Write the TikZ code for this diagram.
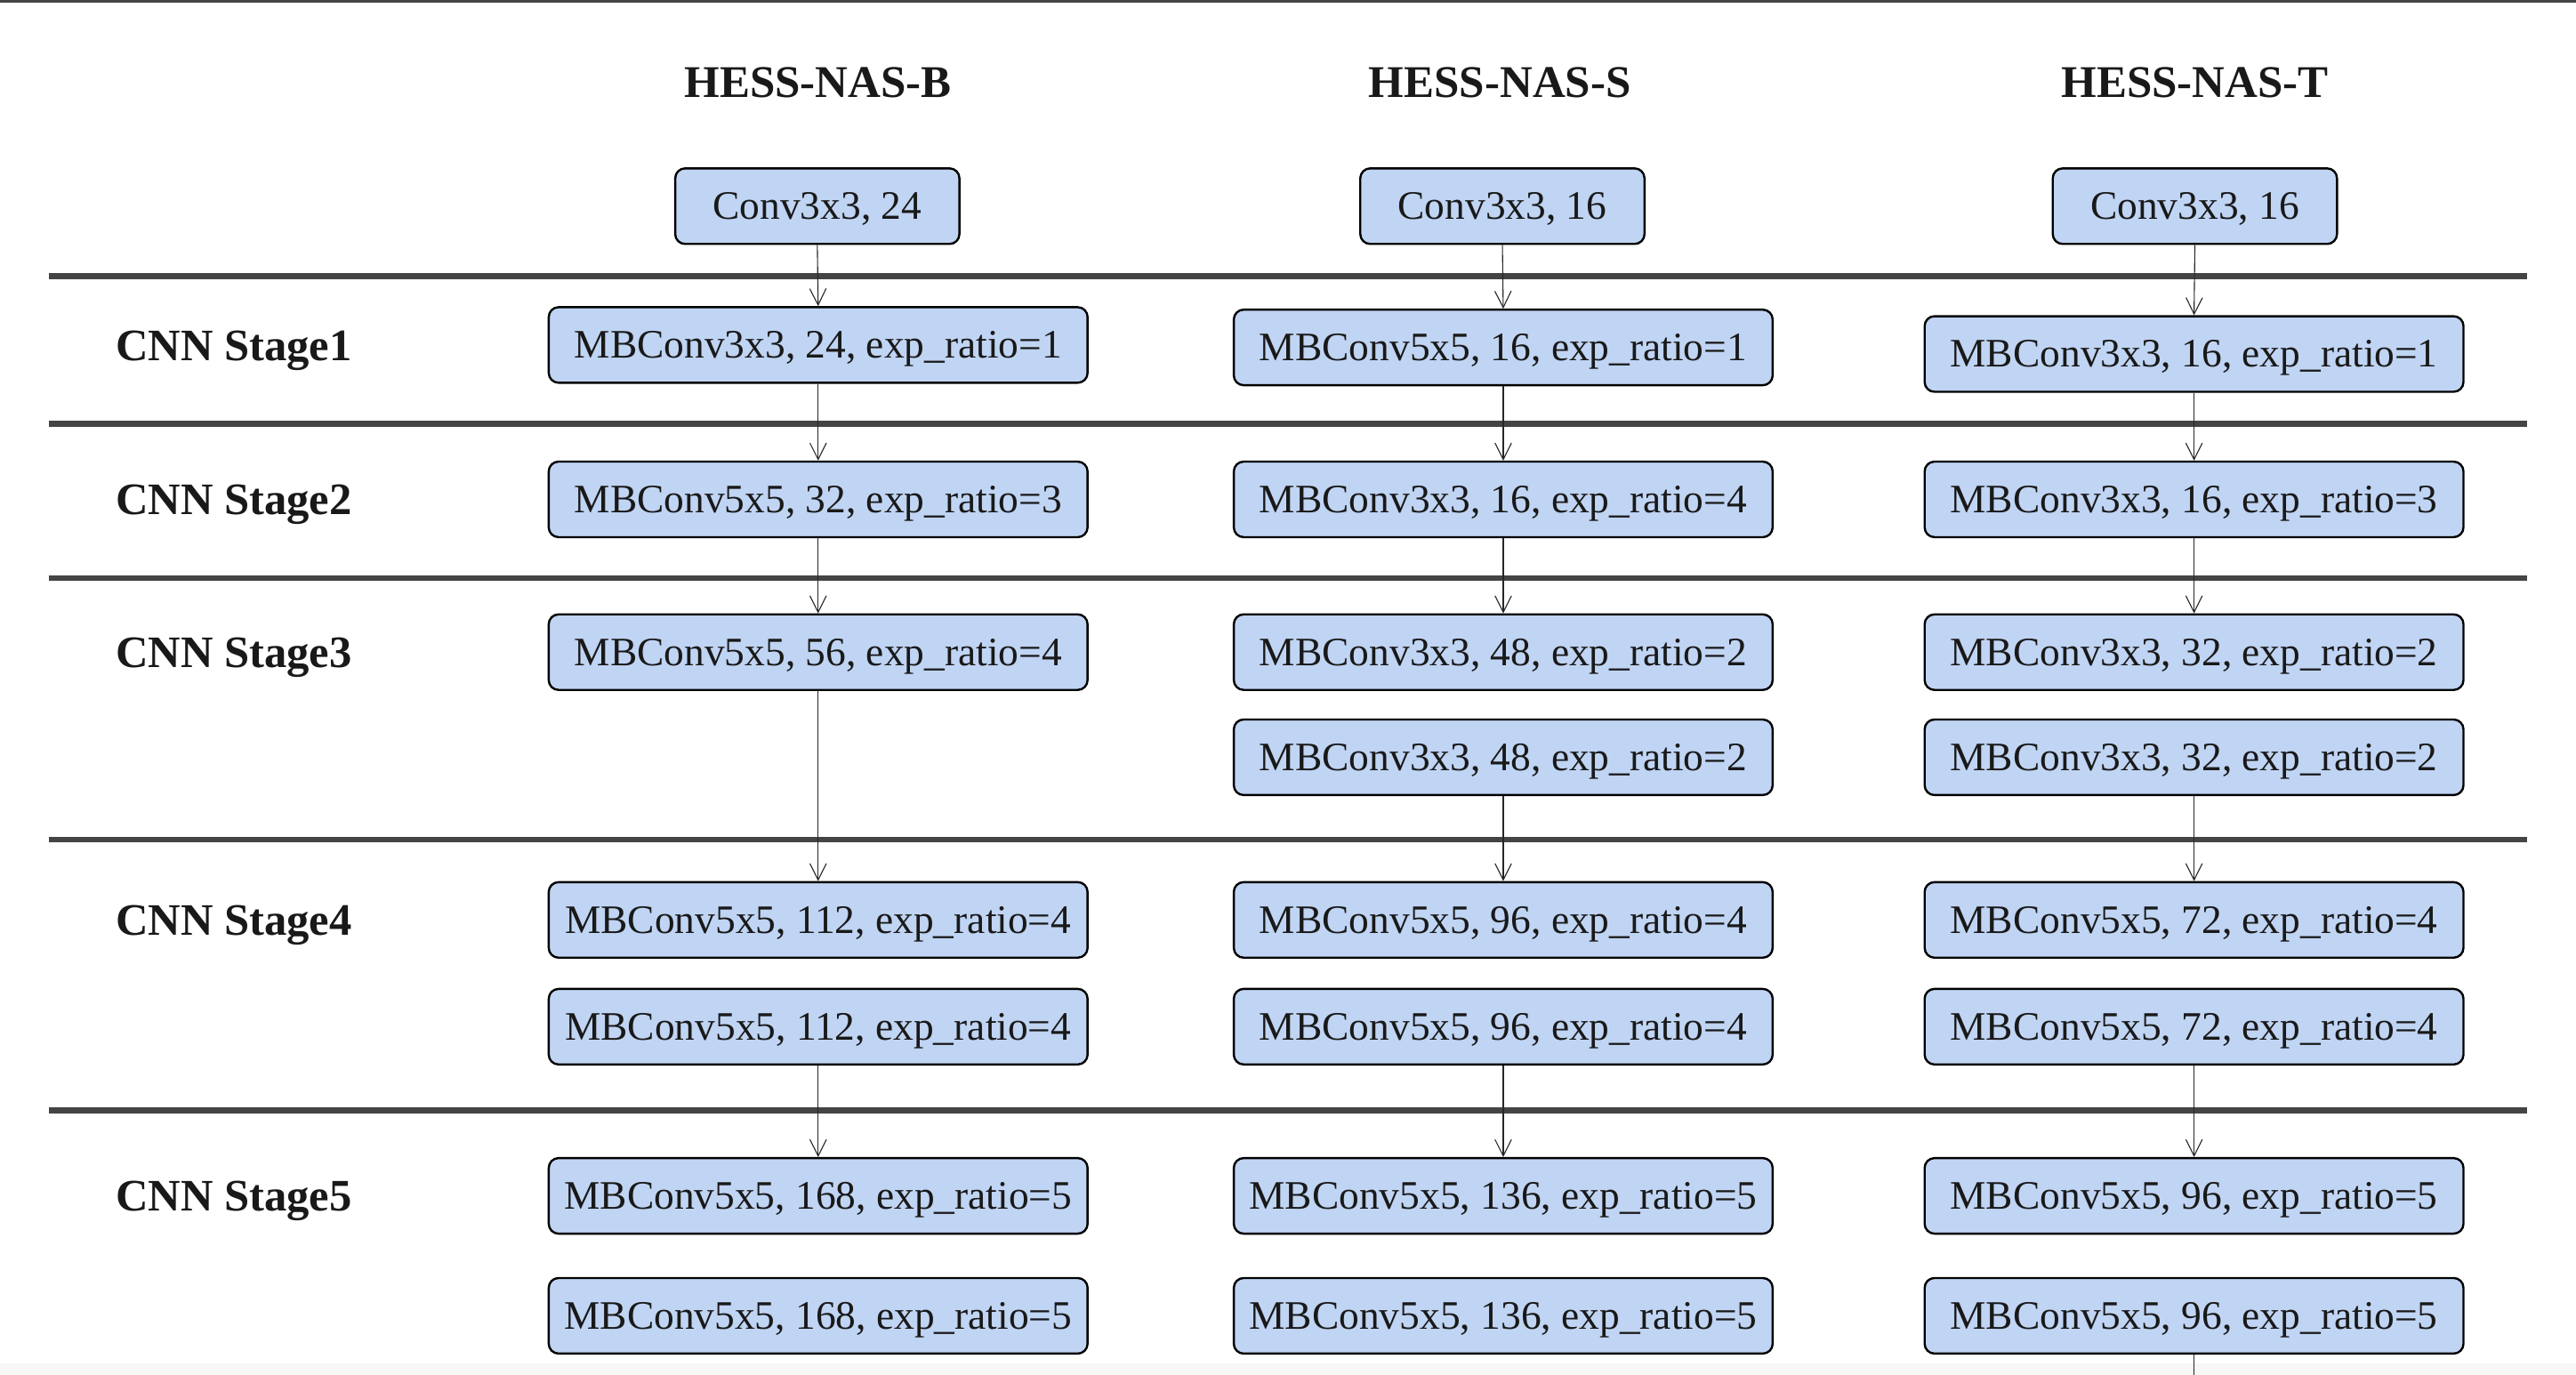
\documentclass[tikz,border=0pt]{standalone}
\usepackage{fontspec}
\setmainfont{Liberation Serif}
\usetikzlibrary{arrows.meta}
\definecolor{boxblue}{RGB}{192,212,243}
\definecolor{rulegray}{RGB}{68,68,68}
\begin{document}
\begin{tikzpicture}[x=0.5pt,y=-0.5pt,
  blk/.style={draw=black, fill=boxblue, rounded corners=3pt, line width=0.65pt,
    minimum width=164pt, minimum height=23pt, inner sep=0pt,
    text height=8.1pt, text depth=0pt,
    font=\fontsize{12.3}{14}\selectfont, text=black!90},
  convblk/.style={blk, minimum width=86.5pt},
  lbl/.style={anchor=west, inner sep=0pt, text height=9.1pt, text depth=0pt,
    font=\fontsize{13.7}{16}\selectfont\bfseries, text=black!90},
  hdr/.style={inner sep=0pt, text height=9.1pt, text depth=0pt,
    font=\fontsize{13.8}{16}\selectfont\bfseries, text=black!90},
  arr/.style={draw=black!85, line width=0.3pt, -{Straight Barb[length=5pt,width=5pt]}},
  plain/.style={draw=black!85, line width=0.3pt},
  sep/.style={draw=rulegray, line width=1.75pt}
]
\useasboundingbox (0,0) rectangle (1568,837);
\fill[black!3] (0,830) rectangle (1568,837);
\draw[rulegray, line width=0.8pt] (0,0.7) -- (1568,0.7);

% separators
\foreach \yy in {168,258,352,511,676}{
  \draw[sep] (30,\yy) -- (1538,\yy);
}

% headers
\node[hdr] (hb) at (498,50) {HESS-NAS-B};
\node[hdr] (hs) at (913,50) {HESS-NAS-S};
\node[hdr] (ht) at (1336,50) {HESS-NAS-T};

% stage labels
\node[lbl] (l1) at (70,210.5) {CNN Stage1};
\node[lbl] (l2) at (70,304) {CNN Stage2};
\node[lbl] (l3) at (70,397) {CNN Stage3};
\node[lbl] (l4) at (70,560) {CNN Stage4};
\node[lbl] (l5) at (70,728) {CNN Stage5};

% column B
\node[convblk] (b0) at (497.5,125.5) {Conv3x3, 24};
\node[blk] (b1) at (498,210) {MBConv3x3, 24, exp\_ratio=1};
\node[blk] (b2) at (498,304) {MBConv5x5, 32, exp\_ratio=3};
\node[blk] (b3) at (498,397) {MBConv5x5, 56, exp\_ratio=4};
\node[blk] (b41) at (498,560) {MBConv5x5, 112, exp\_ratio=4};
\node[blk] (b42) at (498,625) {MBConv5x5, 112, exp\_ratio=4};
\node[blk] (b51) at (498,728) {MBConv5x5, 168, exp\_ratio=5};
\node[blk] (b52) at (498,801) {MBConv5x5, 168, exp\_ratio=5};

% column S
\node[convblk] (s0) at (914.5,125.5) {Conv3x3, 16};
\node[blk] (s1) at (915,211.5) {MBConv5x5, 16, exp\_ratio=1};
\node[blk] (s2) at (915,304) {MBConv3x3, 16, exp\_ratio=4};
\node[blk] (s31) at (915,397) {MBConv3x3, 48, exp\_ratio=2};
\node[blk] (s32) at (915,461) {MBConv3x3, 48, exp\_ratio=2};
\node[blk] (s41) at (915,560) {MBConv5x5, 96, exp\_ratio=4};
\node[blk] (s42) at (915,625) {MBConv5x5, 96, exp\_ratio=4};
\node[blk] (s51) at (915,728) {MBConv5x5, 136, exp\_ratio=5};
\node[blk] (s52) at (915,801) {MBConv5x5, 136, exp\_ratio=5};

% column T
\node[convblk] (t0) at (1336,125.5) {Conv3x3, 16};
\node[blk] (t1) at (1335.5,215.5) {MBConv3x3, 16, exp\_ratio=1};
\node[blk] (t2) at (1335.5,304) {MBConv3x3, 16, exp\_ratio=3};
\node[blk] (t31) at (1335.5,397) {MBConv3x3, 32, exp\_ratio=2};
\node[blk] (t32) at (1335.5,461) {MBConv3x3, 32, exp\_ratio=2};
\node[blk] (t41) at (1335.5,560) {MBConv5x5, 72, exp\_ratio=4};
\node[blk] (t42) at (1335.5,625) {MBConv5x5, 72, exp\_ratio=4};
\node[blk] (t51) at (1335.5,728) {MBConv5x5, 96, exp\_ratio=5};
\node[blk] (t52) at (1335.5,801) {MBConv5x5, 96, exp\_ratio=5};
\coordinate (tend) at (1335.5,837);

% arrows
\draw[arr] (b0.south) -- (b1.north);
\draw[arr] (b1.south) -- (b2.north);
\draw[arr] (b2.south) -- (b3.north);
\draw[arr] (b3.south) -- (b41.north);
\draw[arr] (b42.south) -- (b51.north);

\draw[arr] (s0.south) -- (s1.north);
\draw[arr] (s1.south) -- (s2.north);
\draw[arr] (s2.south) -- (s31.north);
\draw[arr] (s32.south) -- (s41.north);
\draw[arr] (s42.south) -- (s51.north);

\draw[arr] (t0.south) -- (t1.north);
\draw[arr] (t1.south) -- (t2.north);
\draw[arr] (t2.south) -- (t31.north);
\draw[arr] (t32.south) -- (t41.north);
\draw[arr] (t42.south) -- (t51.north);
\draw[plain] (t52.south) -- (tend);
\end{tikzpicture}
\end{document}
